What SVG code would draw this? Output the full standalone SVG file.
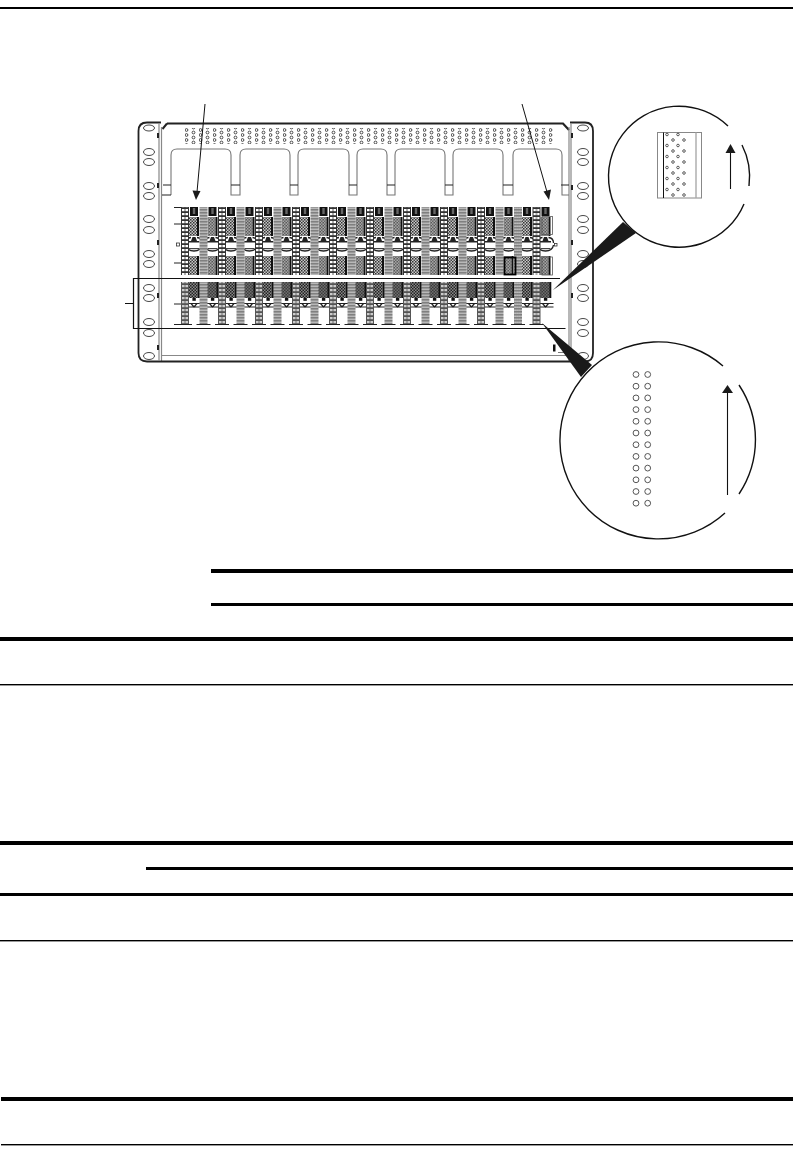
<svg xmlns="http://www.w3.org/2000/svg" width="793" height="1151" viewBox="0 0 793 1151">
<style>
.rule{fill:#000}
.ear{fill:none;stroke:#222;stroke-width:1.8}
.gl{fill:none;stroke:#888;stroke-width:1.2}
.hole{fill:#fff;stroke:#333;stroke-width:.9}
.tab{fill:none;stroke:#777;stroke-width:1.1}
.k{fill:none;stroke:#111;stroke-width:1.4}
.blk{fill:#1a1a1a}
</style>
<defs>
<pattern id="vent" width="14" height="10" patternUnits="userSpaceOnUse" x="185" y="128">
<circle cx="1.5" cy="2" r="1.4" fill="#fff" stroke="#333" stroke-width=".9"/>
<circle cx="1.5" cy="7" r="1.4" fill="#fff" stroke="#333" stroke-width=".9"/>
<circle cx="8.5" cy="4.500" r="1.4" fill="#fff" stroke="#333" stroke-width=".9"/>
<circle cx="8.500" cy="9.500" r="1.4" fill="#fff" stroke="#333" stroke-width=".9"/>
<circle cx="8.500" cy="-.5" r="1.4" fill="#fff" stroke="#333" stroke-width=".9"/>
</pattern>
<pattern id="ladder" x="-4" width="8" height="4" patternUnits="userSpaceOnUse">
<rect width="8" height="4" fill="#333"/>
<rect x="1" y="1" width="2.600" height="2.200" fill="#fff"/>
<rect x="4.400" y="1" width="2.600" height="2.200" fill="#fff"/>
</pattern>
<pattern id="ladderD" x="-4" width="8" height="4" patternUnits="userSpaceOnUse">
<rect width="8" height="4" fill="#555"/>
<rect x="1" y="1" width="2.600" height="2.200" fill="#ccc"/>
<rect x="4.400" y="1" width="2.600" height="2.200" fill="#ccc"/>
</pattern>
<pattern id="grayc" x="-4" width="4" height="3" patternUnits="userSpaceOnUse">
<rect width="4" height="3" fill="#808080"/>
<rect x=".4" y=".6" width="1.300" height="1.300" fill="#e0e0e0"/>
<rect x="2.400" y=".6" width="1.300" height="1.300" fill="#e0e0e0"/>
</pattern>
<pattern id="chk" x="-4" width="3" height="3" patternUnits="userSpaceOnUse">
<rect width="3" height="3" fill="#c8c8c8"/>
<rect width="1.500" height="1.500" fill="#333"/>
<rect x="1.500" y="1.500" width="1.500" height="1.500" fill="#444"/>
</pattern>
<pattern id="chkd" x="-4" width="3" height="3" patternUnits="userSpaceOnUse">
<rect width="3" height="3" fill="#888"/>
<rect width="1.500" height="1.500" fill="#222"/>
<rect x="1.500" y="1.500" width="1.500" height="1.500" fill="#222"/>
</pattern>
<g id="modTop">
<rect x="-4" y="207" width="8" height="9" fill="#111"/>
<rect x="-1.200" y="208" width="2.400" height="6" fill="#666"/>
<rect x="-5" y="217" width="8" height="19" fill="url(#chk)"/>
<rect x="3" y="217" width="2" height="19" fill="#111"/>
<path d="M-8 243Q-8 238 -3 237.500M8 243Q8 238 3 237.500" fill="none" stroke="#222" stroke-width="1.300"/>
<path d="M-3 241l1.500-4h3l1.500 4h2.500v1.600H-5.500v-1.600z" fill="#222"/>
<path d="M-8 245Q-7 251 0 251T8 245" fill="none" stroke="#222" stroke-width="1.400"/>
<rect x="-5" y="248" width="10" height="1.200" fill="#444"/>
<rect x="-5" y="256" width="8" height="19" fill="url(#chk)"/>
<rect x="3" y="256" width="2" height="19" fill="#111"/>
</g>
<g id="modBot">
<rect x="-5.500" y="282" width="11" height="16" fill="url(#chkd)"/>
<rect x="4" y="282" width="1.800" height="16" fill="#111"/>
<rect x="-1.600" y="298" width="3.400" height="2.800" fill="#111"/>
<path d="M-8 303.500H8M-8 307H8M-3 303.500l3 3.500 3-3.500" fill="none" stroke="#222" stroke-width="1.200"/>
</g>
<g id="colA"><rect x="-4" y="207" width="8" height="68" fill="url(#ladder)"/><rect x="-4" y="282" width="8" height="42" fill="url(#ladderD)"/><path d="M-7 324.500H7" stroke="#222"/></g>
<g id="colB"><rect x="-4" y="207" width="8" height="68" fill="url(#grayc)"/><rect x="-4" y="282" width="8" height="42" fill="url(#grayc)"/><path d="M-7 324.500H7" stroke="#222"/></g>
</defs>
<g id="rules">
<rect class="rule" x="0" y="7" width="793" height="2"/>
<rect class="rule" x="211" y="569" width="582" height="4"/>
<rect class="rule" x="211" y="603" width="582" height="3"/>
<rect class="rule" x="0" y="637" width="793" height="4"/>
<rect class="rule" x="0" y="684" width="793" height="1.400"/>
<rect class="rule" x="0" y="841" width="793" height="4"/>
<rect class="rule" x="146" y="867" width="647" height="3"/>
<rect class="rule" x="0" y="893" width="793" height="3"/>
<rect class="rule" x="0" y="940" width="793" height="1.400"/>
<rect class="rule" x="1" y="1097" width="792" height="4"/>
<rect class="rule" x="1" y="1144" width="792" height="1.400"/>
</g>
<g id="chassis">
<path class="ear" d="M161 122.500H147Q138.500 122.500 138.500 131V353Q138.500 361.500 147 361.500H161"/>
<path class="ear" d="M570 122.500H585Q593 122.500 593 131V353Q593 361.500 585 361.500H570"/>
<path d="M167 123.500H563L569 130" fill="none" stroke="#222" stroke-width="2.200"/>
<path d="M167 123.500L162.500 129" fill="none" stroke="#222" stroke-width="2"/>
<path class="gl" d="M159 124V361M161.500 127V361M569 127V361M571 124V361"/>
<path class="gl" d="M161 355.500H569"/>
<path d="M161 361.500H570" stroke="#222" stroke-width="1.800"/>
<path d="M158 133v5M158 183v5M158 240v5M158 293v5M158 345v5M572 133v5M572 185v5M572 240v5M572 293v5" stroke="#222" stroke-width="2"/>
<g id="holes" class="hole">
<ellipse cx="149" cy="128" rx="5.500" ry="3"/><ellipse cx="149" cy="152" rx="5.500" ry="3.500"/><ellipse cx="149" cy="162" rx="5.500" ry="3.500"/><ellipse cx="149" cy="186" rx="5.500" ry="3.500"/><ellipse cx="149" cy="196" rx="5.500" ry="3.500"/><ellipse cx="149" cy="219" rx="5.500" ry="3.500"/><ellipse cx="149" cy="230" rx="5.500" ry="3.500"/><ellipse cx="149" cy="254" rx="5.500" ry="3.500"/><ellipse cx="149" cy="264" rx="5.500" ry="3.500"/><ellipse cx="149" cy="288" rx="5.500" ry="3.500"/><ellipse cx="149" cy="298" rx="5.500" ry="3.500"/><ellipse cx="149" cy="322" rx="5.500" ry="3.500"/><ellipse cx="149" cy="333" rx="5.500" ry="3.500"/><ellipse cx="149" cy="356" rx="5.500" ry="3.500"/>
<ellipse cx="583" cy="128" rx="5.500" ry="3"/><ellipse cx="583" cy="152" rx="5.500" ry="3.500"/><ellipse cx="583" cy="162" rx="5.500" ry="3.500"/><ellipse cx="583" cy="186" rx="5.500" ry="3.500"/><ellipse cx="583" cy="196" rx="5.500" ry="3.500"/><ellipse cx="583" cy="219" rx="5.500" ry="3.500"/><ellipse cx="583" cy="230" rx="5.500" ry="3.500"/><ellipse cx="583" cy="254" rx="5.500" ry="3.500"/><ellipse cx="583" cy="264" rx="5.500" ry="3.500"/><ellipse cx="583" cy="288" rx="5.500" ry="3.500"/><ellipse cx="583" cy="298" rx="5.500" ry="3.500"/><ellipse cx="583" cy="322" rx="5.500" ry="3.500"/><ellipse cx="583" cy="333" rx="5.500" ry="3.500"/><ellipse cx="583" cy="356" rx="5.500" ry="3.500"/>
</g>
<rect x="185" y="128" width="368" height="16" fill="url(#vent)"/>
<g id="tabs" class="tab">
<path d="M171 195V155Q171 149 177 149H225Q231 149 231 155V195H240V155Q240 149 246 149H284Q290 149 290 155V195H298V155Q298 149 304 149H343Q349 149 349 155V195H357V155Q357 149 363 149H381Q387 149 387 155V195H395V155Q395 149 401 149H439Q445 149 445 155V195H453V155Q453 149 459 149H497Q503 149 503 155V195H513V155Q513 149 519 149H556Q562 149 562 155V195H569"/>
<path d="M162 195H171M163 185H171M231 185H240M290 185H298M349 185H357M387 185H395M445 185H453M503 185H513M561 185H569" stroke="#222"/>
</g>
</g>
<g id="modules">
<use href="#modTop" x="194"/><use href="#modTop" x="212.500"/><use href="#modTop" x="231"/><use href="#modTop" x="249.500"/><use href="#modTop" x="268"/><use href="#modTop" x="286.500"/><use href="#modTop" x="305"/><use href="#modTop" x="323.500"/><use href="#modTop" x="342"/><use href="#modTop" x="360.500"/><use href="#modTop" x="379"/><use href="#modTop" x="397.500"/><use href="#modTop" x="416"/><use href="#modTop" x="434.500"/><use href="#modTop" x="453"/><use href="#modTop" x="471.500"/><use href="#modTop" x="490"/><use href="#modTop" x="508.500"/><use href="#modTop" x="527"/><use href="#modTop" x="545.500"/>
<use href="#modBot" x="194"/><use href="#modBot" x="212.500"/><use href="#modBot" x="231"/><use href="#modBot" x="249.500"/><use href="#modBot" x="268"/><use href="#modBot" x="286.500"/><use href="#modBot" x="305"/><use href="#modBot" x="323.500"/><use href="#modBot" x="342"/><use href="#modBot" x="360.500"/><use href="#modBot" x="379"/><use href="#modBot" x="397.500"/><use href="#modBot" x="416"/><use href="#modBot" x="434.500"/><use href="#modBot" x="453"/><use href="#modBot" x="471.500"/><use href="#modBot" x="490"/><use href="#modBot" x="508.500"/><use href="#modBot" x="527"/><use href="#modBot" x="545.500"/>
<use href="#colA" x="185"/><use href="#colB" x="203.500"/><use href="#colA" x="222"/><use href="#colB" x="240.500"/><use href="#colA" x="259"/><use href="#colB" x="277.500"/><use href="#colA" x="296"/><use href="#colB" x="314.500"/><use href="#colA" x="333"/><use href="#colB" x="351.500"/><use href="#colA" x="370"/><use href="#colB" x="388.500"/><use href="#colA" x="407"/><use href="#colB" x="425.500"/><use href="#colA" x="444"/><use href="#colB" x="462.500"/><use href="#colA" x="481"/><use href="#colB" x="499.500"/><use href="#colB" x="518"/><use href="#colA" x="536.500"/>
<path d="M174 207.500h7M174 224h7M174 263h7M174 304h7M174 324.500h7" stroke="#222"/>
<rect x="176.500" y="243" width="3" height="3" fill="none" stroke="#333" stroke-width=".8"/>
<rect x="554.500" y="243.500" width="2.500" height="2.500" fill="none" stroke="#333" stroke-width=".8"/>
<rect x="542" y="216.500" width="10.500" height="18" fill="none" stroke="#555" stroke-width=".8"/>
<rect x="542" y="257" width="10.500" height="18" fill="none" stroke="#555" stroke-width=".8"/>
<rect x="504.500" y="257.500" width="11" height="17" fill="none" stroke="#000" stroke-width="1.800"/>
</g>
<g id="highlight">
<path d="M560 278.500H133.500V328.500H565.500" fill="none" stroke="#111" stroke-width="1.200"/>
<path d="M125 303.500H133" stroke="#111"/>
</g>
<g id="label-mark">
<path d="M553 344.500h2.500v7h-2.500z" fill="#111"/>
<path d="M558 352.500H570M566 347V352" fill="none" stroke="#777"/>
</g>
<g id="connectors">
<path d="M205 104L197 192" stroke="#111" stroke-width="1"/>
<polygon class="blk" points="196,200 192.500,190.500 200.500,191"/>
<path d="M522 104L547 192" stroke="#111" stroke-width="1"/>
<polygon class="blk" points="549,200 543.500,191.500 551,189.500"/>
<polygon class="blk" points="553,290 623,222 636,233"/>
<polygon class="blk" points="542,323 592,365 581,377"/>
</g>
<g id="detail-top">
<path class="k" d="M744 204A70.500 70.500 0 1 1 728 126"/>
<path class="k" d="M742 145A70.500 70.500 0 0 1 749 186"/>
<rect x="657.500" y="132.500" width="44" height="65.500" fill="#fff" stroke="#888"/>
<path d="M663.500 132.500V198" stroke="#111"/>
<path d="M696 132.500V198" stroke="#aaa" stroke-width="1.400"/>
<g fill="#fff" stroke="#333" stroke-width=".8">
<circle cx="667" cy="134.500" r="1.300"/><circle cx="678" cy="134.500" r="1.300"/>
<circle cx="673" cy="140" r="1.300"/><circle cx="684" cy="140" r="1.300"/>
<circle cx="667" cy="145.500" r="1.300"/><circle cx="678" cy="145.500" r="1.300"/>
<circle cx="673" cy="151" r="1.300"/><circle cx="684" cy="151" r="1.300"/>
<circle cx="667" cy="156.500" r="1.300"/><circle cx="678" cy="156.500" r="1.300"/>
<circle cx="673" cy="162" r="1.300"/><circle cx="684" cy="162" r="1.300"/>
<circle cx="667" cy="167.500" r="1.300"/><circle cx="678" cy="167.500" r="1.300"/>
<circle cx="673" cy="173" r="1.300"/><circle cx="684" cy="173" r="1.300"/>
<circle cx="667" cy="178.500" r="1.300"/><circle cx="678" cy="178.500" r="1.300"/>
<circle cx="673" cy="184" r="1.300"/><circle cx="684" cy="184" r="1.300"/>
<circle cx="667" cy="189.500" r="1.300"/><circle cx="678" cy="189.500" r="1.300"/>
<circle cx="673" cy="195" r="1.300"/><circle cx="684" cy="195" r="1.300"/>
</g>
<path d="M730.500 189V150" stroke="#111" stroke-width="1.100"/>
<polygon class="blk" points="730.500,144 735.500,153 725.500,153"/>
</g>
<g id="detail-bottom">
<path class="k" d="M725 513A98.500 98.500 0 1 1 723 366"/>
<path class="k" d="M739 385A98.500 98.500 0 0 1 739 494"/>
<g fill="#fff" stroke="#444" stroke-width=".9">
<circle cx="636" cy="374.500" r="2.900"/><circle cx="647.700" cy="374.500" r="2.900"/>
<circle cx="636" cy="386.200" r="2.900"/><circle cx="647.700" cy="386.200" r="2.900"/>
<circle cx="636" cy="397.900" r="2.900"/><circle cx="647.700" cy="397.900" r="2.900"/>
<circle cx="636" cy="409.600" r="2.900"/><circle cx="647.700" cy="409.600" r="2.900"/>
<circle cx="636" cy="421.300" r="2.900"/><circle cx="647.700" cy="421.300" r="2.900"/>
<circle cx="636" cy="433" r="2.900"/><circle cx="647.700" cy="433" r="2.900"/>
<circle cx="636" cy="444.700" r="2.900"/><circle cx="647.700" cy="444.700" r="2.900"/>
<circle cx="636" cy="456.400" r="2.900"/><circle cx="647.700" cy="456.400" r="2.900"/>
<circle cx="636" cy="468.100" r="2.900"/><circle cx="647.700" cy="468.100" r="2.900"/>
<circle cx="636" cy="479.800" r="2.900"/><circle cx="647.700" cy="479.800" r="2.900"/>
<circle cx="636" cy="491.500" r="2.900"/><circle cx="647.700" cy="491.500" r="2.900"/>
<circle cx="636" cy="503.200" r="2.900"/><circle cx="647.700" cy="503.200" r="2.900"/>
</g>
<path d="M727.500 495V391" stroke="#111" stroke-width="1.100"/>
<polygon class="blk" points="727.500,385 733,393 722,393"/>
</g>
</svg>
